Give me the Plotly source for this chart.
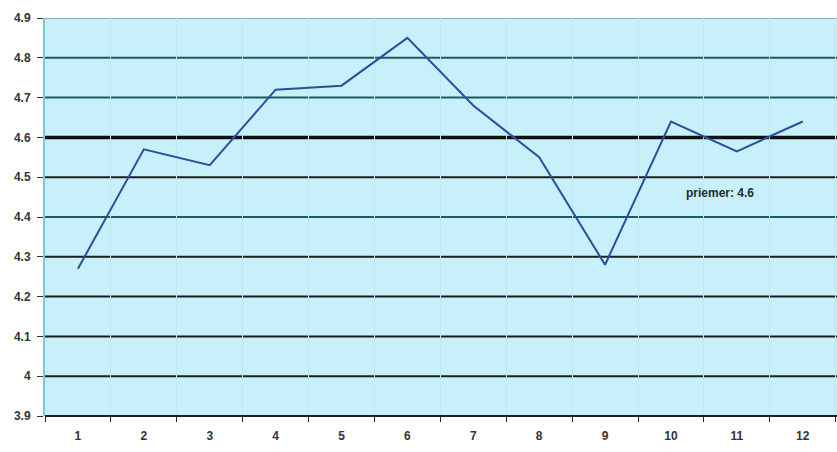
import plotly.graph_objects as go

# Monthly values and the overall mean
months = ["1", "2", "3", "4", "5", "6", "7", "8", "9", "10", "11", "12"]
values = [4.27, 4.57, 4.53, 4.72, 4.73, 4.85, 4.68, 4.55, 4.28, 4.64, 4.565, 4.64]
mean_value = 4.6
mean_label = "priemer: 4.6"

y_ticks = [3.9, 4.0, 4.1, 4.2, 4.3, 4.4, 4.5, 4.6, 4.7, 4.8, 4.9]
y_tick_text = ["3.9", "4", "4.1", "4.2", "4.3", "4.4", "4.5", "4.6", "4.7", "4.8", "4.9"]
teal_levels = [4.4, 4.7, 4.8]

font_family = "Liberation Sans, Arial, sans-serif"

fig = go.Figure()
fig.add_trace(go.Scatter(
    x=months, y=values, mode="lines",
    line=dict(color="#2b4f9e", width=2),
    showlegend=False,
))

# Horizontal gridlines: black, some teal, a thin top edge, thick mean line
for lvl in y_ticks[1:]:
    if lvl == y_ticks[-1]:
        color, width = "#6f9ea6", 1.5
    elif lvl == mean_value:
        color, width = "#111111", 3.5
    elif lvl in teal_levels:
        color, width = "#1d5a5c", 2
    else:
        color, width = "#1b1f1f", 2
    fig.add_shape(type="line", xref="paper", x0=0, x1=1, yref="y", y0=lvl, y1=lvl,
                  line=dict(color=color, width=width), layer="below")

# Bottom edge of the plotting area
fig.add_shape(type="line", xref="paper", x0=0, x1=1, yref="paper", y0=0, y1=0,
              line=dict(color="#1b1f1f", width=2), layer="above")

fig.add_annotation(x=9.74, y=4.46, xref="x", yref="y", text=mean_label, showarrow=False,
                   font=dict(family=font_family, size=12, color="#2a2a2a", weight="bold"))

fig.update_layout(
    width=837, height=452,
    margin=dict(l=45, r=0, t=18, b=36),
    paper_bgcolor="white",
    plot_bgcolor="#c8f0fa",
    font=dict(family=font_family, size=12, color="#333333"),
    xaxis=dict(
        type="category", range=[-0.5, 11.52], tickson="boundaries",
        ticks="outside", ticklen=5, tickcolor="#222222", tickwidth=1,
        showgrid=True, gridcolor="#bfe8f2", gridwidth=1,
        showline=False,
        ticklabelstandoff=11,
        tickfont=dict(family=font_family, size=12, color="#333333", weight="bold"),
        zeroline=False, fixedrange=True,
    ),
    yaxis=dict(
        range=[3.9, 4.9], tickvals=y_ticks, ticktext=y_tick_text,
        ticks="outside", ticklen=6, tickcolor="#333333", tickwidth=1,
        showgrid=False,
        showline=True, linecolor="#86c4d6", linewidth=2,
        ticklabelstandoff=4,
        tickfont=dict(family=font_family, size=12, color="#333333", weight="bold"),
        zeroline=False, fixedrange=True,
    ),
)

fig.write_html("out.html")
